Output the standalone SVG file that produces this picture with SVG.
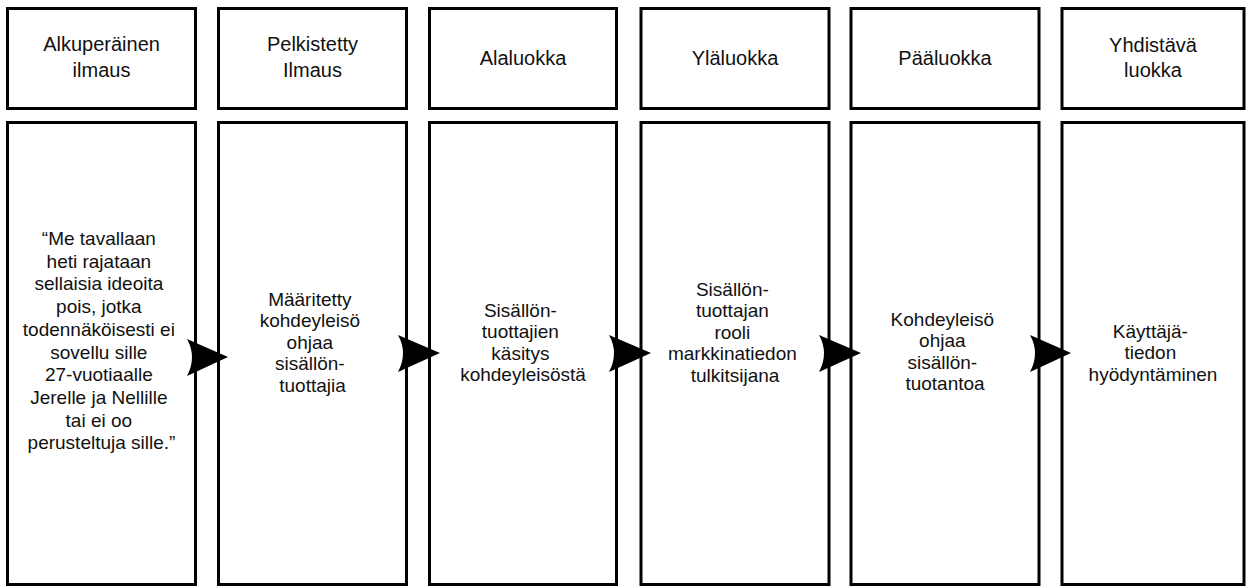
<svg xmlns="http://www.w3.org/2000/svg" width="1246" height="586" viewBox="0 0 1246 586">
  <style>
    .box { fill: #ffffff; stroke: #000000; stroke-width: 3; }
    .lbl { font-family: "Liberation Sans", Arial, sans-serif; font-size: 19px; fill: #111111; text-anchor: middle; }
    .hdr { font-size: 20px; }
    .arrow { fill: #000000; stroke: none; }
  </style>
  <rect width="1246" height="586" fill="#ffffff"/>

  <!-- header row -->
  <g id="h1"><rect class="box" x="7.5" y="8.5" width="188" height="100"/>
    <text class="lbl hdr" x="101.5" y="51">Alkuperäinen</text><text class="lbl hdr" x="101.5" y="77">ilmaus</text></g>
  <g id="h2"><rect class="box" x="218.5" y="8.5" width="188" height="100"/>
    <text class="lbl hdr" x="312.5" y="51">Pelkistetty</text><text class="lbl hdr" x="312.5" y="77">Ilmaus</text></g>
  <g id="h3"><rect class="box" x="429.5" y="8.5" width="187" height="100"/>
    <text class="lbl hdr" x="523" y="65">Alaluokka</text></g>
  <g id="h4"><rect class="box" x="641" y="8.5" width="188" height="100"/>
    <text class="lbl hdr" x="735" y="65">Yläluokka</text></g>
  <g id="h5"><rect class="box" x="851" y="8.5" width="188" height="100"/>
    <text class="lbl hdr" x="945" y="65">Pääluokka</text></g>
  <g id="h6"><rect class="box" x="1062" y="8.5" width="182" height="100"/>
    <text class="lbl hdr" x="1153" y="52">Yhdistävä</text><text class="lbl hdr" x="1153" y="77">luokka</text></g>

  <!-- content row -->
  <g id="c1"><rect class="box" x="7.5" y="122.5" width="188" height="462"/>
    <text class="lbl">
      <tspan x="101.5" y="245">“Me tavallaan</tspan>
      <tspan x="101.5" y="267.7">heti rajataan</tspan>
      <tspan x="101.5" y="290.4">sellaisia ideoita</tspan>
      <tspan x="101.5" y="313.1">pois, jotka</tspan>
      <tspan x="101.5" y="335.8">todennäköisesti ei</tspan>
      <tspan x="101.5" y="358.5">sovellu sille</tspan>
      <tspan x="101.5" y="381.2">27-vuotiaalle</tspan>
      <tspan x="101.5" y="403.9">Jerelle ja Nellille</tspan>
      <tspan x="101.5" y="426.6">tai ei oo</tspan>
      <tspan x="101.5" y="449.3">perusteltuja sille.”</tspan>
    </text></g>
  <g id="c2"><rect class="box" x="218.5" y="122.5" width="188" height="462"/>
    <text class="lbl">
      <tspan x="312.5" y="306">Määritetty</tspan>
      <tspan x="312.5" y="327.4">kohdeyleisö</tspan>
      <tspan x="312.5" y="348.8">ohjaa</tspan>
      <tspan x="312.5" y="370.2">sisällön-</tspan>
      <tspan x="312.5" y="391.6">tuottajia</tspan>
    </text></g>
  <g id="c3"><rect class="box" x="429.5" y="122.5" width="187" height="462"/>
    <text class="lbl">
      <tspan x="523" y="317">Sisällön-</tspan>
      <tspan x="523" y="338.4">tuottajien</tspan>
      <tspan x="523" y="359.8">käsitys</tspan>
      <tspan x="523" y="381.2">kohdeyleisöstä</tspan>
    </text></g>
  <g id="c4"><rect class="box" x="641" y="122.5" width="188" height="462"/>
    <text class="lbl">
      <tspan x="735" y="296">Sisällön-</tspan>
      <tspan x="735" y="317.4">tuottajan</tspan>
      <tspan x="735" y="338.8">rooli</tspan>
      <tspan x="735" y="360.2">markkinatiedon</tspan>
      <tspan x="735" y="381.6">tulkitsijana</tspan>
    </text></g>
  <g id="c5"><rect class="box" x="851" y="122.5" width="188" height="462"/>
    <text class="lbl">
      <tspan x="945" y="326">Kohdeyleisö</tspan>
      <tspan x="945" y="347.4">ohjaa</tspan>
      <tspan x="945" y="368.8">sisällön-</tspan>
      <tspan x="945" y="390.2">tuotantoa</tspan>
    </text></g>
  <g id="c6"><rect class="box" x="1062" y="122.5" width="182" height="462"/>
    <text class="lbl">
      <tspan x="1153" y="338">Käyttäjä-</tspan>
      <tspan x="1153" y="359.4">tiedon</tspan>
      <tspan x="1153" y="380.8">hyödyntäminen</tspan>
    </text></g>

  <!-- connectors -->
  <g id="connectors">
    <path class="arrow" d="M187,339 L228,357 L187,376 Q197,357 187,339 Z"/>
    <path class="arrow" d="M398,335 L440,353 L398,372 Q408,353 398,335 Z"/>
    <path class="arrow" d="M609,335 L651,353 L609,372 Q619,353 609,335 Z"/>
    <path class="arrow" d="M819,335 L861,353 L819,372 Q829,353 819,335 Z"/>
    <path class="arrow" d="M1030,335 L1071,353 L1030,372 Q1040,353 1030,335 Z"/>
  </g>
</svg>
